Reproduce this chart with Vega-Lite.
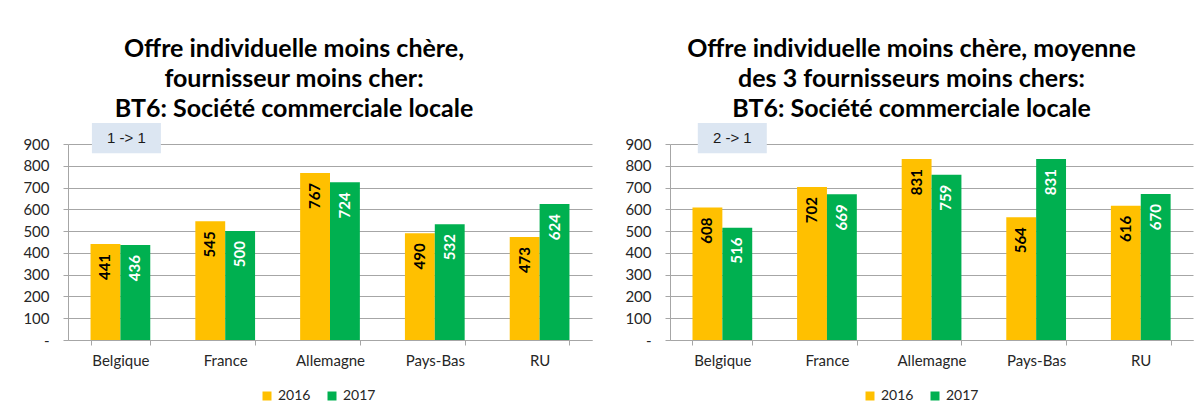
{
  "$schema": "https://vega.github.io/schema/vega-lite/v6.json",
  "background": "white",
  "padding": {"left": 22, "top": 37, "right": 5, "bottom": 0},
  "spacing": 32,
  "config": {
    "font": "Lato",
    "view": {"stroke": null},
    "axis": {"labelFont": "Lato", "labelFontSize": 15, "labelColor": "#262626", "domainColor": "#a6a6a6", "tickColor": "#a6a6a6", "gridColor": "#a6a6a6", "title": null},
    "title": {"font": "Lato", "fontSize": 25, "fontWeight": "bold", "color": "black", "lineHeight": 30, "anchor": "middle", "frame": "group"},
    "legend": {"title": null, "orient": "none", "direction": "horizontal", "symbolType": "square", "symbolSize": 81, "symbolStrokeWidth": 0, "labelFont": "Lato", "labelFontSize": 14, "labelColor": "#262626", "columnPadding": 14, "labelOffset": 4}
  },
  "datasets": {
    "a": [
      {"country": "Belgique", "year": "2016", "v": 441},
      {"country": "Belgique", "year": "2017", "v": 436},
      {"country": "France", "year": "2016", "v": 545},
      {"country": "France", "year": "2017", "v": 500},
      {"country": "Allemagne", "year": "2016", "v": 767},
      {"country": "Allemagne", "year": "2017", "v": 724},
      {"country": "Pays-Bas", "year": "2016", "v": 490},
      {"country": "Pays-Bas", "year": "2017", "v": 532},
      {"country": "RU", "year": "2016", "v": 473},
      {"country": "RU", "year": "2017", "v": 624}
    ],
    "b": [
      {"country": "Belgique", "year": "2016", "v": 608},
      {"country": "Belgique", "year": "2017", "v": 516},
      {"country": "France", "year": "2016", "v": 702},
      {"country": "France", "year": "2017", "v": 669},
      {"country": "Allemagne", "year": "2016", "v": 831},
      {"country": "Allemagne", "year": "2017", "v": 759},
      {"country": "Pays-Bas", "year": "2016", "v": 564},
      {"country": "Pays-Bas", "year": "2017", "v": 831},
      {"country": "RU", "year": "2016", "v": 616},
      {"country": "RU", "year": "2017", "v": 670}
    ],
    "boxA": [{"country": "Belgique", "v": 927, "t": "1 -> 1"}],
    "boxB": [{"country": "Belgique", "v": 927, "t": "2 -> 1"}]
  },
  "hconcat": [
    {
      "width": 524,
      "height": 196,
      "title": {"text": ["Offre individuelle moins chère,", "fournisseur moins cher:", "BT6: Société commerciale locale"], "dx": -36, "offset": 1},
      "encoding": {
        "x": {"field": "country", "type": "nominal", "sort": ["Belgique", "France", "Allemagne", "Pays-Bas", "RU"], "scale": {"paddingInner": 0.43, "paddingOuter": 0.215}, "axis": {"title": null, "tickBand": "extent", "tickSize": 5, "labelPadding": 8, "labelAngle": 0, "grid": false}},
        "y": {"field": "v", "type": "quantitative", "scale": {"domain": [0, 900], "nice": false}, "axis": {"title": null, "values": [0, 100, 200, 300, 400, 500, 600, 700, 800, 900], "labelExpr": "datum.value == 0 ? '-' : datum.label", "tickSize": 5, "labelPadding": 14, "grid": true}}
      },
      "layer": [
        {
          "data": {"name": "a"},
          "mark": {"type": "bar"},
          "encoding": {
            "xOffset": {"field": "year", "type": "nominal", "scale": {"paddingInner": 0, "paddingOuter": 0}},
            "color": {"field": "year", "type": "nominal", "scale": {"domain": ["2016", "2017"], "range": ["#FFC000", "#00B050"]}, "legend": {"legendX": 192, "legendY": 245}}
          }
        },
        {
          "data": {"name": "a"},
          "mark": {"type": "text", "angle": 270, "align": "right", "baseline": "middle", "dx": -10, "fontSize": 15, "fontWeight": "bold"},
          "encoding": {
            "xOffset": {"field": "year", "type": "nominal"},
            "text": {"field": "v", "type": "quantitative"},
            "color": {"condition": {"test": "datum.year === '2017'", "value": "white"}, "value": "black"}
          }
        },
        {
          "data": {"name": "boxA"},
          "mark": {"type": "point", "shape": "M-1,-0.435H1V0.435H-1Z", "size": 4761, "filled": true, "fill": "#dce6f2", "opacity": 1, "strokeWidth": 0, "xOffset": 6}
        },
        {
          "data": {"name": "boxA"},
          "mark": {"type": "text", "font": "Liberation Sans", "fontSize": 15, "color": "#1a1a1a", "align": "center", "baseline": "middle", "xOffset": 6},
          "encoding": {"text": {"field": "t", "type": "nominal"}}
        }
      ]
    },
    {
      "width": 523,
      "height": 196,
      "title": {"text": ["Offre individuelle moins chère, moyenne", "des 3 fournisseurs moins chers:", "BT6: Société commerciale locale"], "dx": -20, "offset": 1},
      "encoding": {
        "x": {"field": "country", "type": "nominal", "sort": ["Belgique", "France", "Allemagne", "Pays-Bas", "RU"], "scale": {"paddingInner": 0.43, "paddingOuter": 0.215}, "axis": {"title": null, "tickBand": "extent", "tickSize": 5, "labelPadding": 8, "labelAngle": 0, "grid": false}},
        "y": {"field": "v", "type": "quantitative", "scale": {"domain": [0, 900], "nice": false}, "axis": {"title": null, "values": [0, 100, 200, 300, 400, 500, 600, 700, 800, 900], "labelExpr": "datum.value == 0 ? '-' : datum.label", "tickSize": 5, "labelPadding": 14, "grid": true}}
      },
      "layer": [
        {
          "data": {"name": "b"},
          "mark": {"type": "bar"},
          "encoding": {
            "xOffset": {"field": "year", "type": "nominal", "scale": {"paddingInner": 0, "paddingOuter": 0}},
            "color": {"field": "year", "type": "nominal", "scale": {"domain": ["2016", "2017"], "range": ["#FFC000", "#00B050"]}, "legend": {"legendX": 193, "legendY": 245}}
          }
        },
        {
          "data": {"name": "b"},
          "mark": {"type": "text", "angle": 270, "align": "right", "baseline": "middle", "dx": -10, "fontSize": 15, "fontWeight": "bold"},
          "encoding": {
            "xOffset": {"field": "year", "type": "nominal"},
            "text": {"field": "v", "type": "quantitative"},
            "color": {"condition": {"test": "datum.year === '2017'", "value": "white"}, "value": "black"}
          }
        },
        {
          "data": {"name": "boxB"},
          "mark": {"type": "point", "shape": "M-1,-0.435H1V0.435H-1Z", "size": 4761, "filled": true, "fill": "#dce6f2", "opacity": 1, "strokeWidth": 0, "xOffset": 10}
        },
        {
          "data": {"name": "boxB"},
          "mark": {"type": "text", "font": "Liberation Sans", "fontSize": 15, "color": "#1a1a1a", "align": "center", "baseline": "middle", "xOffset": 10},
          "encoding": {"text": {"field": "t", "type": "nominal"}}
        }
      ]
    }
  ],
  "resolve": {"scale": {"color": "independent"}, "legend": {"color": "independent"}}
}
